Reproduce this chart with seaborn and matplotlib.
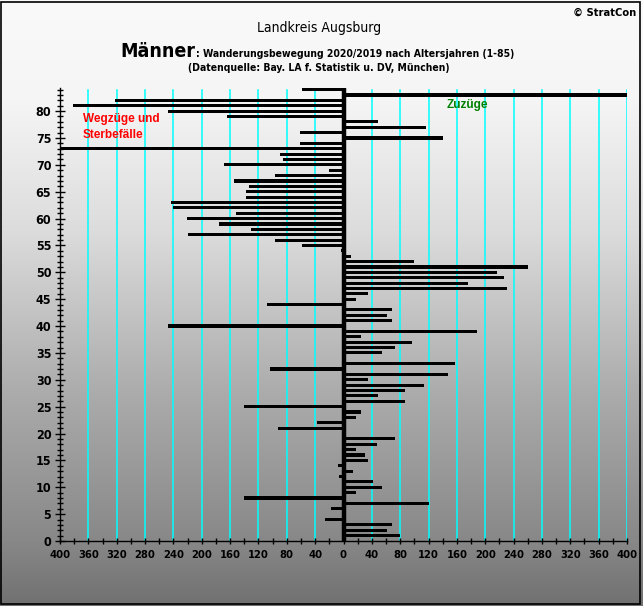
import numpy as np
import pandas as pd
import matplotlib
matplotlib.use("Agg")
import matplotlib.pyplot as plt
import seaborn as sns
from matplotlib.patches import Rectangle
from matplotlib.ticker import MultipleLocator

# ---- data (net migration of men by age, Landkreis Augsburg 2020/2019) ----
ages = list(range(1, 86))
saldo = [
    80, 62, 69, -26, 0, -18, 120, -141, 17, 54,        # 1-10
    42, -7, 14, -8, 34, 31, 18, 47, 73, 0,             # 11-20
    -92, -37, 18, 25, -140, 87, 49, 87, 114, 35,       # 21-30
    147, -103, 158, 0, 55, 72, 97, 24, 189, -248,      # 31-40
    69, 62, 68, -108, 18, 35, 231, 176, 226, 217,      # 41-50
    261, 99, 10, -4, -59, -97, -219, -130, -175, -221, # 51-60
    -152, -241, -243, -138, -138, -134, -154, -97, -21, -169,  # 61-70
    -86, -90, -400, -61, 141, -62, 117, 49, -165, -248,        # 71-80
    -382, -323, 400, -59, 0,                                   # 81-85
]
x_ticks = list(range(-400, 401, 40))
x_tick_labels = [str(abs(t)) for t in x_ticks]
y_ticks = list(range(0, 85, 5))
grid_values = [v for v in x_ticks if v != 0]

plt.rcParams["font.family"] = ["DejaVu Sans"]
plt.rcParams["font.stretch"] = "condensed"

W, H = 643, 606
fig = plt.figure(figsize=(W / 100, H / 100), dpi=100)

def fx(x):
    return x / W

def fy(y):
    return 1 - y / H

# background gradient
bg = fig.add_axes([0, 0, 1, 1], zorder=-10)
yy = np.arange(H)
g = np.interp(yy, [0, 100, 230, 390, 540, 606], [250, 245, 220, 172, 136, 112]) / 255
img = np.repeat(g[:, None], 4, axis=1)
bg.imshow(np.dstack([img, img, img]), aspect="auto", extent=[0, 1, 0, 1], origin="upper")
bg.axis("off")

ax = fig.add_axes([60 / W, 65 / H, 567 / W, 453 / H])
ax.set_facecolor("none")

df = pd.DataFrame({"Alter": ages, "Saldo": saldo})
sns.barplot(data=df, x="Saldo", y="Alter", orient="h", native_scale=True,
            color="black", saturation=1, width=0.58, errorbar=None, ax=ax, zorder=3)

ax.set_xlim(-400, 400)
ax.set_ylim(0, 84.3)
ax.set_xlabel("")
ax.set_ylabel("")

for v in grid_values:
    ax.axvline(v, ymin=0, ymax=84.0 / 84.3, color="#00ffff", lw=1.1, zorder=1)
ax.plot([0, 0], [0, 84.3], color="black", lw=3.2, solid_capstyle="butt", zorder=4)

ax.set_xticks(x_ticks)
ax.set_xticklabels(x_tick_labels)
ax.xaxis.set_minor_locator(MultipleLocator(20))
ax.set_yticks(y_ticks)
ax.set_yticklabels([str(t) for t in y_ticks])
ax.yaxis.set_minor_locator(MultipleLocator(1))
ax.tick_params(axis="both", which="both", direction="inout", color="black",
               bottom=True, left=True, top=False, right=False)
ax.tick_params(axis="x", which="both", length=5, width=1, pad=4, labelsize=8)
ax.tick_params(axis="y", which="major", length=6.5, width=1, pad=3, labelsize=9)
ax.tick_params(axis="y", which="minor", length=4.5, width=1)
for lab in ax.get_xticklabels() + ax.get_yticklabels():
    lab.set_fontweight("bold")

for s in ["top", "right"]:
    ax.spines[s].set_visible(False)
for s in ["left", "bottom"]:
    ax.spines[s].set_color("black")
    ax.spines[s].set_linewidth(1)

# texts
fig.text(fx(636), fy(13), "© StratCon", ha="right", va="center", fontsize=8, weight="bold")
fig.text(fx(319), fy(28), "Landkreis Augsburg", ha="center", va="center", fontsize=10)
t_m = fig.text(fx(120), fy(57), "Männer", ha="left", va="baseline", fontsize=14, weight="bold")
fig.canvas.draw()
bb = t_m.get_window_extent()
fig.text(bb.x1 / W + 1 / W, fy(57), ": Wanderungsbewegung 2020/2019 nach Altersjahren (1-85)",
         ha="left", va="baseline", fontsize=7.5, weight="bold")
fig.text(fx(319), fy(68), "(Datenquelle: Bay. LA f. Statistik u. DV, München)",
         ha="center", va="center", fontsize=7.5, weight="bold")

fig.text(fx(83), fy(127), "Wegzüge und\nSterbefälle", ha="left", va="center",
         fontsize=8.5, weight="bold", color="#ff0000", linespacing=1.45,
         family=["Liberation Sans", "DejaVu Sans"], stretch="normal")
fig.text(fx(447), fy(105), "Zuzüge", ha="left", va="center",
         fontsize=8.5, weight="bold", color="#008000",
         family=["Liberation Sans", "DejaVu Sans"], stretch="normal")

fig.patches.append(Rectangle((1 / W, 2 / H), 639 / W, 602 / H, transform=fig.transFigure,
                             fill=False, ec="black", lw=1.2))

fig.savefig("out.png", dpi=100)
